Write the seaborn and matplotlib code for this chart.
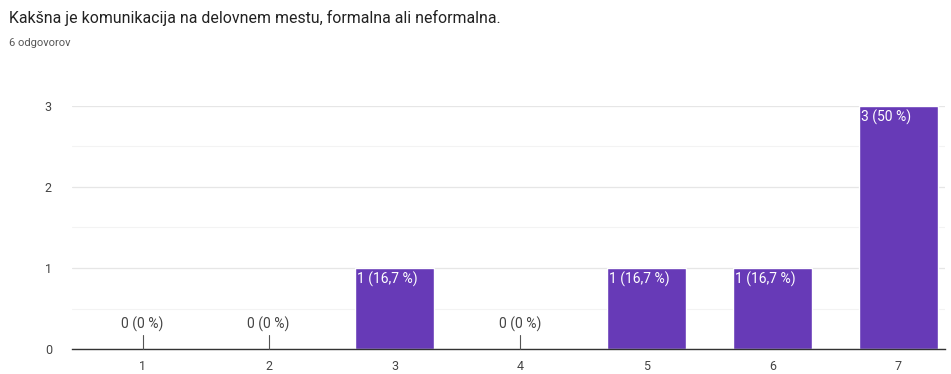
import matplotlib
matplotlib.use("Agg")
import matplotlib.pyplot as plt
import seaborn as sns
import pandas as pd

title = "Kakšna je komunikacija na delovnem mestu, formalna ali neformalna."
subtitle = "6 odgovorov"
categories = ["1", "2", "3", "4", "5", "6", "7"]
counts = [0, 0, 1, 0, 1, 1, 3]
labels = ["0 (0 %)", "0 (0 %)", "1 (16,7 %)", "0 (0 %)", "1 (16,7 %)", "1 (16,7 %)", "3 (50 %)"]

sns.set_style("white")
plt.rcParams['font.family'] = ['Roboto', 'DejaVu Sans']

df = pd.DataFrame({"cat": categories, "n": counts})

fig = plt.figure(figsize=(9.51, 3.74), dpi=100)
ax = fig.add_axes([0.0757, 0.0668, 0.918, 0.650])

purple = "#673ab7"
sns.barplot(data=df, x="cat", y="n", order=categories, color=purple,
            saturation=1, width=0.63, ax=ax, zorder=3)

ax.set_xlim(-0.56, 6.37)
ax.set_ylim(0, 3)
ax.set_yticks([0, 1, 2, 3])
ax.set_yticks([0.5, 1.5, 2.5], minor=True)
ax.grid(axis="y", which="major", color="#e6e6e6", lw=0.9, zorder=0)
ax.grid(axis="y", which="minor", color="#f3f3f3", lw=0.8, zorder=0)
ax.grid(axis="x", visible=False)
for s in ["top", "right", "left"]:
    ax.spines[s].set_visible(False)
ax.spines["bottom"].set_color("#333333")
ax.spines["bottom"].set_linewidth(1.0)
ax.spines["bottom"].set_zorder(4)
ax.set_xlabel("")
ax.set_ylabel("")
ax.tick_params(axis="both", length=0, labelsize=9, labelcolor="#444444")
ax.tick_params(axis="y", pad=17)
ax.tick_params(axis="x", pad=8)
for lab in ax.get_yticklabels():
    lab.set_horizontalalignment("center")

for i, (v, lab) in enumerate(zip(counts, labels)):
    if v > 0:
        ax.annotate(lab, xy=(i - 0.315, v), xytext=(1.5, -2.5), textcoords="offset points",
                    ha="left", va="top", fontsize=10, color="white", zorder=5)
    else:
        ax.plot([i, i], [0, 0.17], color="#555555", lw=0.8, zorder=5, clip_on=False)
        ax.text(i, 0.21, lab, ha="center", va="bottom", fontsize=10, color="#444444", zorder=5)

fig.text(9 / 951, 1 - 18 / 374, title, ha="left", va="center", fontsize=11.4, color="#222222")
fig.text(9 / 951, 1 - 43 / 374, subtitle, ha="left", va="center", fontsize=8, color="#555555")

fig.savefig("out.png", dpi=100)
